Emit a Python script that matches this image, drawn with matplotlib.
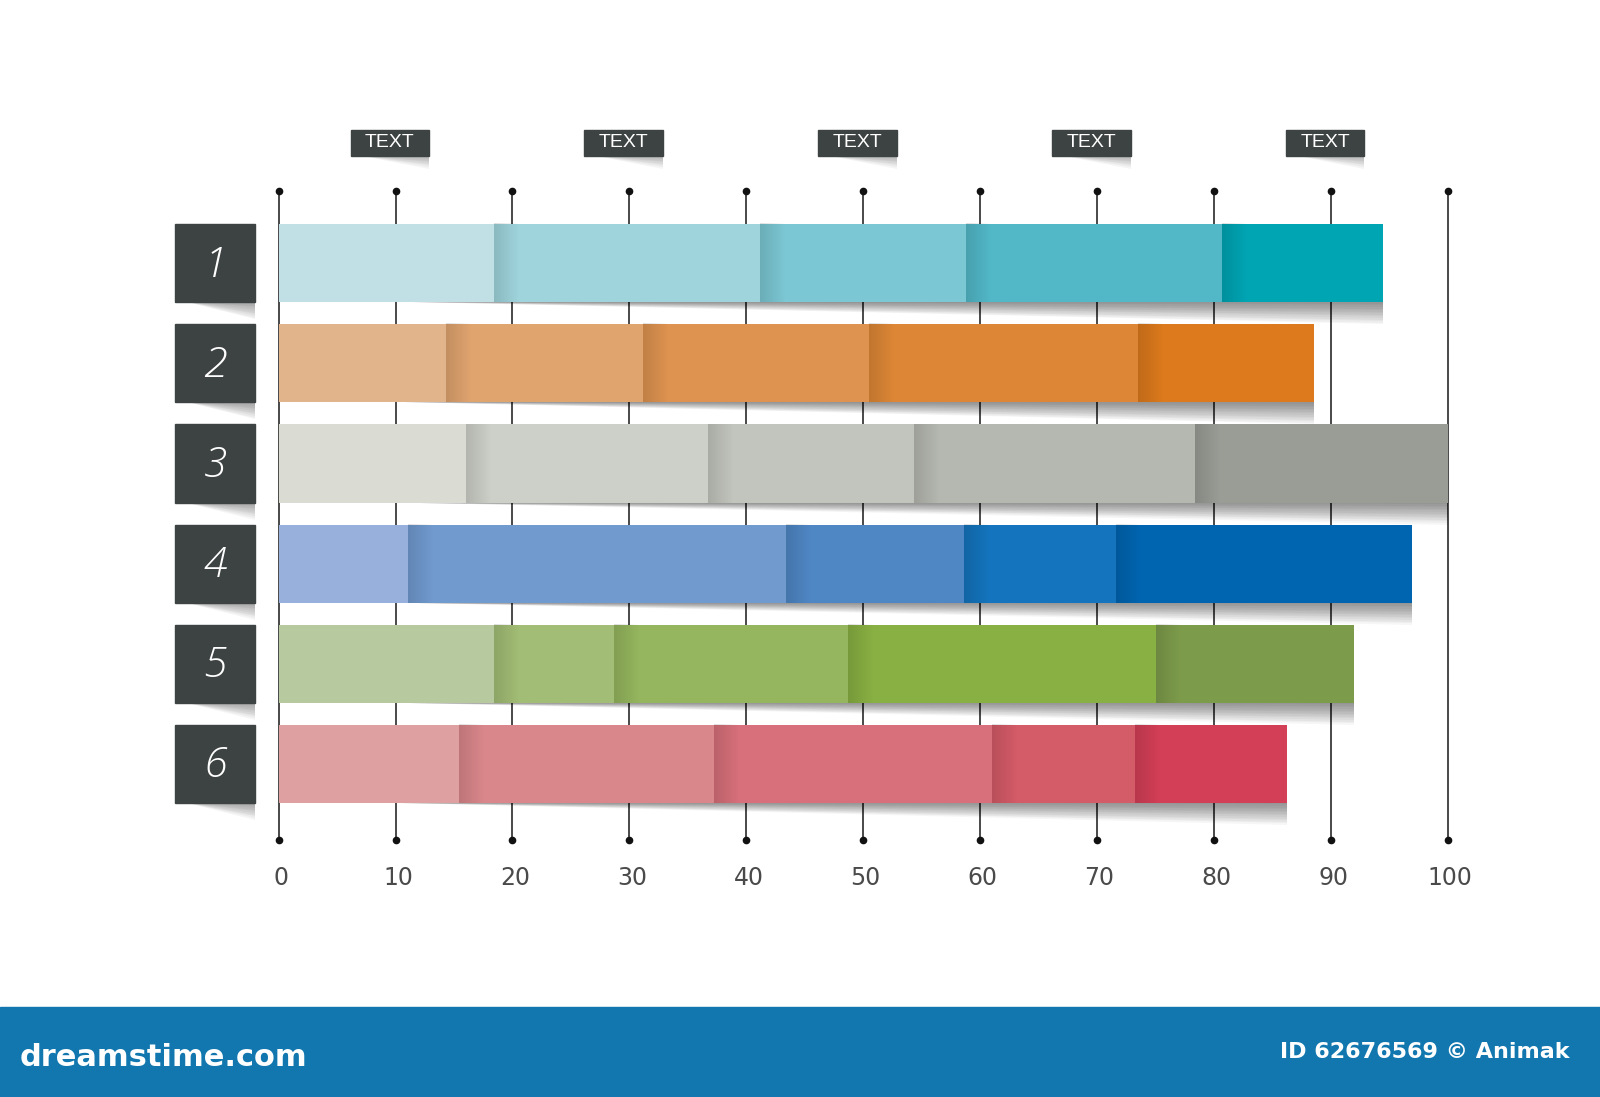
import numpy as np
import matplotlib
matplotlib.use("Agg")
import matplotlib.pyplot as plt
from matplotlib.patches import Rectangle, Polygon

# ---------------- data ----------------
categories = ['1', '2', '3', '4', '5', '6']
seg_1 = [18.4, 22.8, 17.6, 21.9, 13.7]
seg_2 = [14.3, 16.9, 19.3, 23.0, 15.0]
seg_3 = [16.0, 20.7, 17.6, 24.1, 21.6]
seg_4 = [11.1, 32.3, 15.2, 13.0, 25.3]
seg_5 = [18.4, 10.3, 20.0, 26.3, 17.0]
seg_6 = [15.4, 21.8, 23.8, 12.2, 13.0]
segments = [seg_1, seg_2, seg_3, seg_4, seg_5, seg_6]

colors_1 = ['#c1e0e6', '#9fd4dc', '#7bc7d3', '#52b8c8', '#00a5b4']
colors_2 = ['#e2b48c', '#e0a46f', '#de9350', '#dd8736', '#dc7a1d']
colors_3 = ['#dadcd4', '#cdd0c8', '#c2c5bd', '#b5b8b0', '#9a9d96']
colors_4 = ['#98b0dc', '#719acf', '#4f87c5', '#1474bd', '#0065b1']
colors_5 = ['#b7c99e', '#a2bd75', '#95b65e', '#89b043', '#7d9c4b']
colors_6 = ['#dfa0a1', '#da878b', '#d7707a', '#d45b68', '#d33f57']
row_colors = [colors_1, colors_2, colors_3, colors_4, colors_5, colors_6]

ticks = [0, 10, 20, 30, 40, 50, 60, 70, 80, 90, 100]
header_positions = [10, 30, 50, 70, 90]
header_labels = ['TEXT', 'TEXT', 'TEXT', 'TEXT', 'TEXT']

# ---------------- figure ----------------
W, H = 1600, 1097
fig = plt.figure(figsize=(W / 100, H / 100), dpi=100)
fig.patch.set_facecolor('white')

x0_px, x100_px = 278.6, 1448.0
row0_px, row_step = 263.3, 100.1
ytop, ybot = -1.6, 6.4
top_px = row0_px + ytop * row_step
bot_px = row0_px + ybot * row_step
ax = fig.add_axes([x0_px / W, 1 - bot_px / H, (x100_px - x0_px) / W, (bot_px - top_px) / H])
ax.set_xlim(0, 100)
ax.set_ylim(ybot, ytop)
ax.axis('off')

dark = '#3d4342'
bar_h = 0.78
line_top, line_bot = -0.725, 5.765


def soft_shadow(x_start, x_end, y_edge, max_depth, n, alpha, clip=True):
    """Curled-paper shadow: thin at left, deeper at the right end."""
    for k in range(n):
        depth = max_depth * (k + 1) / n
        ax.add_patch(Polygon([[x_start, y_edge], [x_end, y_edge], [x_end, y_edge + depth]],
                             closed=True, color='black', alpha=alpha, lw=0, zorder=2,
                             clip_on=clip))


# vertical grid lines with dots
for t in ticks:
    ax.plot([t, t], [line_top, line_bot], color='#3a3a3a', lw=1.3, zorder=1, clip_on=False)
    ax.plot([t, t], [line_top, line_bot], 'o', color='#111111', ms=4.5, zorder=2, clip_on=False)
    ax.text(t + 0.2, 6.14, str(t), ha='center', va='center', fontsize=17,
            color='#4a4a4a', family=['DejaVu Sans'], clip_on=False)

# header boxes
for hx, lab in zip(header_positions, header_labels):
    bw, bh = 6.7, 0.255
    cx = hx - 0.5
    yc = -1.203
    soft_shadow(cx - bw / 2 + 1.0, cx + bw / 2, yc + bh / 2, 0.13, 8, 0.04, clip=False)
    ax.add_patch(Rectangle((cx - bw / 2, yc - bh / 2), bw, bh, color=dark, zorder=3, clip_on=False))
    ax.text(cx, yc, lab, ha='center', va='center', color='white', fontsize=14,
            family=['Liberation Sans', 'DejaVu Sans'], zorder=4, clip_on=False)

# bars
for i, (segs, cols) in enumerate(zip(segments, row_colors)):
    yc = i
    total = sum(segs)
    soft_shadow(total * 0.12, total, yc + bar_h / 2, 0.22, 14, 0.035)
    left = 0
    for j, (w, c) in enumerate(zip(segs, cols)):
        ax.barh(yc, w, left=left, height=bar_h, color=c, edgecolor='none', zorder=3)
        if j > 0:
            grad = np.linspace(0.13, 0.0, 60)
            rgba = np.zeros((1, 60, 4))
            rgba[0, :, 3] = grad
            ax.imshow(rgba, extent=[left, left + 2.2, yc + bar_h / 2, yc - bar_h / 2],
                      aspect='auto', zorder=4, interpolation='bilinear')
        left += w

    # label box
    lx0, lx1 = -8.82, -2.01
    soft_shadow(lx0 + 1.0, lx1, yc + bar_h / 2, 0.17, 10, 0.04, clip=False)
    ax.add_patch(Rectangle((lx0, yc - bar_h / 2), lx1 - lx0, bar_h, color=dark, zorder=3, clip_on=False))
    ax.text((lx0 + lx1) / 2, yc + 0.02, categories[i], ha='center', va='center', color='white',
            fontsize=31, style='italic', fontweight=300,
            family=['Open Sans', 'DejaVu Sans'], zorder=4, clip_on=False)

ax.set_xlim(0, 100)
ax.set_ylim(ybot, ytop)

# bottom banner
banner_top = 1007
fig.patches.append(Rectangle((0, 0), 1, (H - banner_top) / H, transform=fig.transFigure,
                             color='#1177ae', zorder=0))
fig.text(20 / W, 1 - 1057 / H, 'dreamstime.com', color='white', fontsize=22, fontweight='bold',
         ha='left', va='center', family=['DejaVu Sans'])
fig.text(1570 / W, 1 - 1052 / H, 'ID 62676569 \u00a9 Animak', color='white', fontsize=16,
         fontweight='bold', ha='right', va='center', family=['DejaVu Sans'])

fig.savefig('out.png', dpi=100, facecolor='white')
